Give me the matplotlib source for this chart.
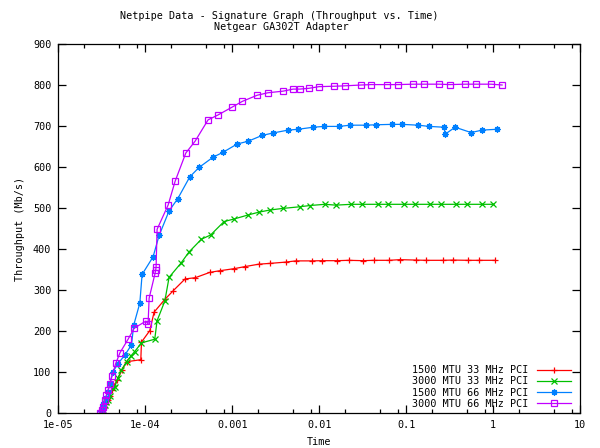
import matplotlib
matplotlib.use("Agg")
import matplotlib.pyplot as plt
from matplotlib.ticker import FixedLocator, NullFormatter

# ---------------- data (time in s, throughput in Mb/s) ----------------
labels = ["1500 MTU 33 MHz PCI", "3000 MTU 33 MHz PCI",
          "1500 MTU 66 MHz PCI", "3000 MTU 66 MHz PCI"]

t_1500_33 = [3.08e-5, 3.20e-5, 3.33e-5, 3.52e-5, 3.71e-5, 3.91e-5, 4.12e-5, 4.35e-5,
             4.75e-5, 5.41e-5, 6.09e-5, 8.89e-5, 9.05e-5, 1.128e-4, 1.264e-4, 1.679e-4,
             2.091e-4, 2.872e-4, 3.764e-4, 5.53e-4, 7.20e-4, 1.051e-3, 1.396e-3, 2.022e-3,
             2.757e-3, 4.104e-3, 5.388e-3, 8.17e-3, 1.081e-2, 1.609e-2, 2.176e-2, 3.202e-2,
             4.251e-2, 6.377e-2, 8.463e-2, 0.1293, 0.1685, 0.2623, 0.3417, 0.5166, 0.6913,
             1.047]
v_1500_33 = [1, 5, 11, 22, 32, 41, 56, 66, 80, 105, 125, 130, 173, 201, 246, 277,
             298, 327, 330, 343, 347, 352, 357, 363, 365, 368, 371, 371, 371.5, 371.5,
             372.4, 371.5, 372.4, 372.4, 374, 373, 372.4, 372.4, 373, 372.4, 372.4,
             372.4]

t_3000_33 = [3.08e-5, 3.20e-5, 3.29e-5, 3.47e-5, 3.58e-5, 3.74e-5, 3.91e-5, 4.27e-5,
             4.46e-5, 4.84e-5, 5.33e-5, 6.09e-5, 6.82e-5, 7.57e-5, 9.05e-5, 1.286e-4,
             1.368e-4, 1.679e-4, 1.880e-4, 2.564e-4, 3.194e-4, 4.434e-4, 5.631e-4,
             8.07e-4, 1.043e-3, 1.523e-3, 2.039e-3, 2.707e-3, 3.819e-3, 5.99e-3, 7.80e-3,
             1.161e-2, 1.554e-2, 2.355e-2, 3.119e-2, 4.689e-2, 6.207e-2, 9.484e-2,
             0.1260, 0.1873, 0.2506, 0.3730, 0.5030, 0.7483, 1.001]
v_3000_33 = [1, 5, 8.5, 19.5, 27, 32, 41, 60, 64, 85, 105, 125, 139, 150, 171, 180,
             225, 273, 331, 365, 393, 424, 434, 467, 473, 483, 490, 495, 499, 503, 506,
             509, 507, 509, 509, 509, 509, 509, 509, 509, 509, 509, 509, 509, 509]

t_1500_66 = [3.06e-5, 3.12e-5, 3.19e-5, 3.27e-5, 3.36e-5, 3.52e-5, 3.71e-5, 3.91e-5,
             4.24e-5, 4.84e-5, 5.81e-5, 6.94e-5, 7.38e-5, 8.66e-5, 9.20e-5, 1.231e-4,
             1.443e-4, 1.880e-4, 2.368e-4, 3.254e-4, 4.161e-4, 6.03e-4, 7.86e-4,
             1.138e-3, 1.532e-3, 2.208e-3, 2.954e-3, 4.395e-3, 5.727e-3, 8.52e-3,
             1.140e-2, 1.697e-2, 2.270e-2, 3.440e-2, 4.518e-2, 6.90e-2, 8.995e-2,
             0.1374, 0.1839, 0.2736, 0.2809, 0.3660, 0.5592, 0.7483, 1.113]
v_1500_66 = [1, 5, 10, 21, 24, 37, 51, 72, 100, 120, 141, 166, 215, 268, 338, 381,
             433, 493, 523, 576, 599, 624, 636, 656, 663, 677, 683, 690, 692, 697, 699,
             699, 702, 702, 703, 704, 704, 702, 699, 697, 680, 697, 684, 690, 692]

t_3000_66 = [3.04e-5, 3.14e-5, 3.19e-5, 3.27e-5, 3.43e-5, 3.58e-5, 3.74e-5, 3.91e-5,
             4.16e-5, 4.58e-5, 5.12e-5, 6.35e-5, 7.48e-5, 1.015e-4, 1.078e-4, 1.108e-4,
             1.298e-4, 1.322e-4, 1.333e-4, 1.368e-4, 1.831e-4, 2.204e-4, 2.926e-4,
             3.744e-4, 5.28e-4, 6.88e-4, 9.97e-4, 1.306e-3, 1.934e-3, 2.568e-3,
             3.850e-3, 5.018e-3, 5.99e-3, 7.66e-3, 9.98e-3, 1.501e-2, 1.988e-2,
             3.037e-2, 3.958e-2, 6.045e-2, 8.09e-2, 0.1204, 0.1611, 0.2396, 0.3207,
             0.4771, 0.6384, 0.950, 1.271]
v_3000_66 = [0.5, 1.2, 7.3, 15.4, 31.7, 43.9, 56.1, 70.7, 91, 121, 147, 180, 207, 224,
             217, 280, 341, 350, 357, 448, 507, 565, 634, 663, 715, 727, 746, 760, 775,
             781, 785, 790, 790, 792, 796, 797, 798, 800, 801, 801, 801, 802, 802, 802,
             801, 802, 802, 802, 800]

colors = ["#ff0000", "#00c000", "#0080ff", "#c000ff"]

# ---------------- figure ----------------
FONT = "DejaVu Sans Mono"
FS = 7.3
plt.rcParams["font.family"] = FONT

fig = plt.figure(figsize=(6.0, 4.48), dpi=100)
ax = fig.add_axes([58.3 / 600, 1 - 413 / 448, (580 - 58.3) / 600, (413 - 44) / 448])

series = [(t_1500_33, v_1500_33, "+", {}),
          (t_3000_33, v_3000_33, "x", {}),
          (t_1500_66, v_1500_66, (8, 2, 0), {}),
          (t_3000_66, v_3000_66, "s", {"markerfacecolor": "none"})]

for (t, v, m, extra), c, lab in zip(series, colors, labels):
    ax.plot(t, v, color=c, lw=0.9, marker=m, markersize=4.5,
            markeredgewidth=0.9, markeredgecolor=c, label=lab, **extra)

ax.set_xscale("log")
ax.set_xlim(1e-5, 10)
ax.set_ylim(0, 900)

major = [1e-5, 1e-4, 1e-3, 1e-2, 1e-1, 1, 10]
ax.xaxis.set_major_locator(FixedLocator(major))
ax.set_xticklabels(["1e-05", "1e-04", "0.001", "0.01", "0.1", "1", "10"])
minor = [m * d for d in major[:-1] for m in (2, 5, 8)]
ax.xaxis.set_minor_locator(FixedLocator(minor))
ax.xaxis.set_minor_formatter(NullFormatter())
ax.set_yticks(range(0, 901, 100))

ax.tick_params(which="both", direction="in", top=True, right=True,
               labelsize=FS, width=0.9, colors="black")
ax.tick_params(which="major", length=6, pad=5)
ax.tick_params(which="minor", length=3)
for s in ax.spines.values():
    s.set_linewidth(0.9)

ax.set_xlabel("Time", fontsize=FS, labelpad=5)
ax.set_ylabel("Throughput (Mb/s)", fontsize=FS, labelpad=6)

fig.text(279 / 600, 1 - 16 / 448, "Netpipe Data - Signature Graph (Throughput vs. Time)",
         ha="center", va="center", fontsize=FS)
fig.text(281 / 600, 1 - 27 / 448, "Netgear GA302T Adapter",
         ha="center", va="center", fontsize=FS)

leg = ax.legend(loc="lower right", frameon=False, markerfirst=False, fontsize=FS,
                handlelength=3.4, handletextpad=0.8, labelspacing=0.12,
                borderaxespad=0.2, bbox_to_anchor=(0.995, -0.005))

fig.savefig("out.png", dpi=100, facecolor="white")
